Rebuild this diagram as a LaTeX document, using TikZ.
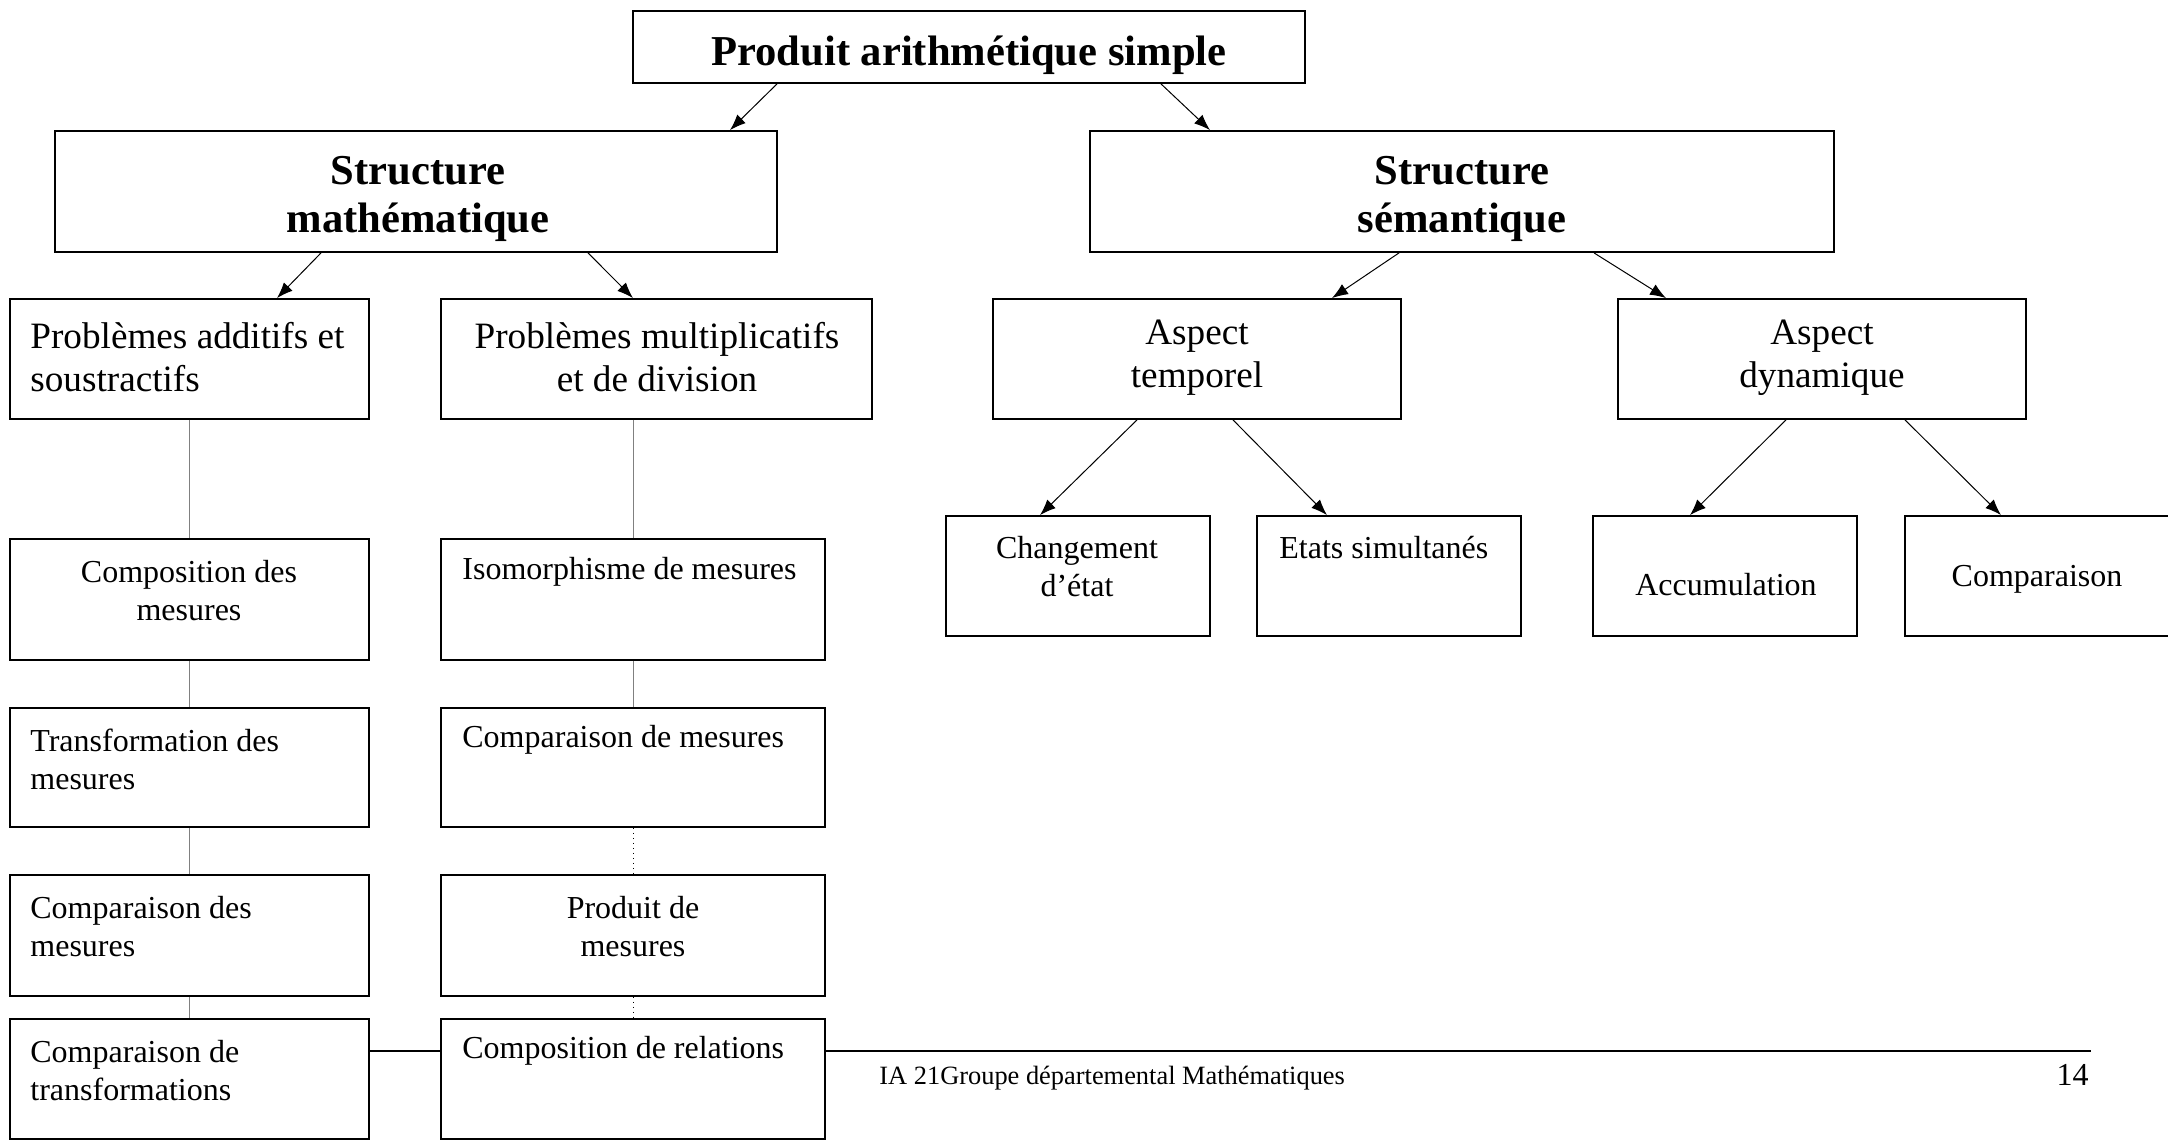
\documentclass[tikz,border=0pt]{standalone}
\usepackage{fontspec}
\setmainfont{Liberation Serif}
\usetikzlibrary{arrows.meta}

\tikzset{
  box/.style={draw, line width=0.9pt, fill=white, inner sep=0pt},
  title/.style={inner sep=0pt, align=center, font=\fontsize{21.3}{24}\selectfont\bfseries},
  big/.style={inner sep=0pt, font=\fontsize{18.6}{21.5}\selectfont},
  small/.style={inner sep=0pt, font=\fontsize{16}{19}\selectfont},
  arr/.style={-{Latex[length=8pt,width=6pt]}, line width=0.5pt},
  link/.style={draw=gray, line width=0.3pt},
  dotlink/.style={dotted, line width=0.5pt}
}

\begin{document}
\begin{tikzpicture}[x=0.5pt, y=-0.5pt]
\useasboundingbox (0,0) rectangle (2168,1141);

% footer rule (behind the boxes)
\draw[line width=0.8pt] (369,1051) -- (2091,1051);

% Boxes
\node[box, minimum width=336pt, minimum height=36pt] (top) at (969,47) {};
\node[box, minimum width=361pt, minimum height=60.5pt] (sm) at (416,191.5) {};
\node[box, minimum width=372pt, minimum height=60.5pt] (ss) at (1462,191.5) {};
\node[box, minimum width=179.5pt, minimum height=60pt] (pa) at (189.5,359) {};
\node[box, minimum width=215.5pt, minimum height=60pt] (pm) at (656.5,359) {};
\node[box, minimum width=204pt, minimum height=60pt] (at) at (1197,359) {};
\node[box, minimum width=204pt, minimum height=60pt] (ad) at (1822,359) {};
\node[box, minimum width=132pt, minimum height=60pt] (ce) at (1078,576) {};
\node[box, minimum width=132pt, minimum height=60pt] (es) at (1389,576) {};
\node[box, minimum width=132pt, minimum height=60pt] (ac) at (1725,576) {};
\node[box, minimum width=132pt, minimum height=60pt] (co) at (2037,576) {};

% left column
\node[box, minimum width=179.5pt, minimum height=60.5pt] (cm) at (189.5,599.5) {};
\node[box, minimum width=179.5pt, minimum height=59.5pt] (tm) at (189.5,767.5) {};
\node[box, minimum width=179.5pt, minimum height=60.5pt] (cdm) at (189.5,935.5) {};
\node[box, minimum width=179.5pt, minimum height=60pt] (ct) at (189.5,1079) {};

% right column
\node[box, minimum width=192pt, minimum height=60.5pt] (im) at (633,599.5) {};
\node[box, minimum width=192pt, minimum height=59.5pt] (cpm) at (633,767.5) {};
\node[box, minimum width=192pt, minimum height=60.5pt] (pdm) at (633,935.5) {};
\node[box, minimum width=192pt, minimum height=60pt] (cr) at (633,1079) {};

% Texts
\node[title] (ttop) at (969,55) {Produit arithmétique simple};
\node[title] (tsm) at (418,199) {Structure\\mathématique};
\node[title] (tss) at (1462,199) {Structure\\sémantique};
\node[big, align=left, anchor=west] (tpa) at (30,357) {Problèmes additifs et\\soustractifs};
\node[big, align=center] (tpm) at (657,357) {Problèmes multiplicatifs\\et de division};
\node[big, align=center] (tat) at (1197,358) {Aspect\\temporel};
\node[big, align=center] (tad) at (1822,358) {Aspect\\dynamique};
\node[small, align=center] (tce) at (1077,567) {Changement\\d’état};
\node[small, anchor=west] (tes) at (1279,548) {Etats simultanés};
\node[small] (tac) at (1726,585) {Accumulation};
\node[small] (tco) at (2037,579) {Comparaison};
\node[small, align=center] (tcm) at (189,591) {Composition des\\mesures};
\node[small, align=left, anchor=west] (ttm) at (30,759) {Transformation des\\mesures};
\node[small, align=left, anchor=west] (tcdm) at (30,927) {Comparaison des\\mesures};
\node[small, align=left, anchor=west] (tct) at (30,1070.5) {Comparaison de\\transformations};
\node[small, anchor=west] (tim) at (462,572) {Isomorphisme de mesures};
\node[small, anchor=west] (tcpm) at (462,740) {Comparaison de mesures};
\node[small, align=center] (tpdm) at (633,927) {Produit de\\mesures};
\node[small, anchor=west] (tcr) at (462,1051) {Composition de relations};

% footer
\node[inner sep=0pt, anchor=west, font=\fontsize{13.2}{15}\selectfont] (foot) at (879,1078) {IA 21Groupe départemental Mathématiques};
\node[inner sep=0pt, anchor=east, font=\fontsize{16}{18}\selectfont] (page) at (2089,1075) {14};

% Arrows
\draw[arr] ([xshift=-96pt]top.south) -- ([xshift=157pt]sm.north);
\draw[arr] ([xshift=96pt]top.south) -- ([xshift=-126pt]ss.north);
\draw[arr] ([xshift=-47.5pt]sm.south) -- ([xshift=43.75pt]pa.north);
\draw[arr] ([xshift=86pt]sm.south) -- ([xshift=-11.75pt]pm.north);
\draw[arr] ([xshift=-31.5pt]ss.south) -- ([xshift=67.5pt]at.north);
\draw[arr] ([xshift=66pt]ss.south) -- ([xshift=-78pt]ad.north);
\draw[arr] ([xshift=-30pt]at.south) -- ([xshift=-19pt]ce.north);
\draw[arr] ([xshift=18pt]at.south) -- ([xshift=-31pt]es.north);
\draw[arr] ([xshift=-18pt]ad.south) -- ([xshift=-17.5pt]ac.north);
\draw[arr] ([xshift=41.5pt]ad.south) -- ([xshift=-18pt]co.north);

% column links
\draw[link] (pa.south) -- (cm.north);
\draw[link] (cm.south) -- (tm.north);
\draw[link] (tm.south) -- (cdm.north);
\draw[link] (cdm.south) -- (ct.north);
\draw[link] (pm.south -| im.north) -- (im.north);
\draw[link] (im.south) -- (cpm.north);
\draw[dotlink] (cpm.south) -- (pdm.north);
\draw[dotlink] (pdm.south) -- (cr.north);
\end{tikzpicture}
\end{document}
